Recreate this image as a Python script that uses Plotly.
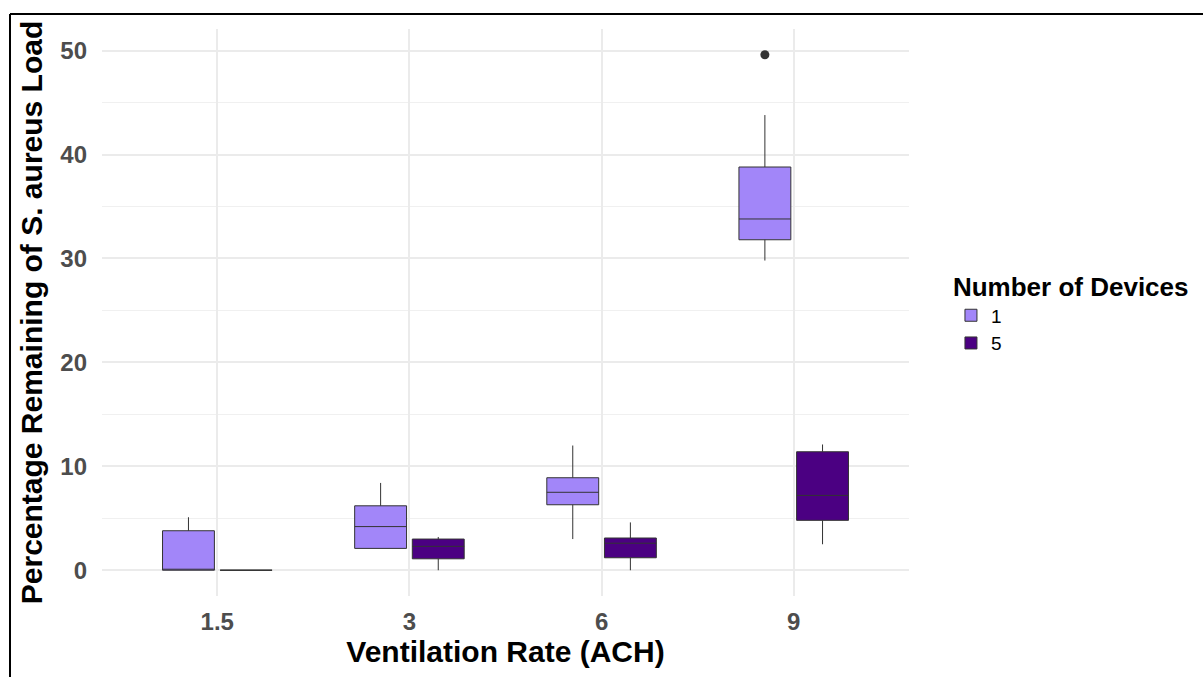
import plotly.graph_objects as go

# ---- data ----
categories = ["1.5", "3", "6", "9"]

dev1_q1 = [0.0, 2.1, 6.3, 31.8]
dev1_median = [0.0, 4.2, 7.5, 33.8]
dev1_q3 = [3.8, 6.2, 8.9, 38.8]
dev1_lower = [0.0, 2.1, 3.0, 29.8]
dev1_upper = [5.1, 8.4, 12.0, 43.8]

dev5_q1 = [0.0, 1.1, 1.2, 4.8]
dev5_median = [0.0, 2.3, 2.6, 7.2]
dev5_q3 = [0.0, 3.0, 3.1, 11.4]
dev5_lower = [0.0, 0.0, 0.0, 2.5]
dev5_upper = [0.0, 3.2, 4.6, 12.1]

outlier_x = ["9"]
outlier_dev1 = [49.6]
outlier_dev5 = [None]

FONT = "Liberation Sans, Arial, sans-serif"
COL1 = "#A286F9"
COL5 = "#4B0082"
LINE = "#333333"
BOXGAP = 0.4

fig = go.Figure()
fig.add_trace(go.Box(
    name="1", x=categories, q1=dev1_q1, median=dev1_median, q3=dev1_q3,
    lowerfence=dev1_lower, upperfence=dev1_upper,
    fillcolor=COL1, line=dict(color=LINE, width=1), whiskerwidth=0,
    boxpoints=False, offsetgroup="1", legendgroup="1",
))
fig.add_trace(go.Box(
    name="5", x=categories, q1=dev5_q1, median=dev5_median, q3=dev5_q3,
    lowerfence=dev5_lower, upperfence=dev5_upper,
    fillcolor=COL5, line=dict(color=LINE, width=1), whiskerwidth=0,
    boxpoints=False, offsetgroup="5", legendgroup="5",
))
fig.add_trace(go.Scatter(
    x=outlier_x, y=outlier_dev1, mode="markers", offsetgroup="1",
    marker=dict(color=LINE, size=9), showlegend=False, legendgroup="1",
    hoverinfo="y",
))
fig.add_trace(go.Scatter(
    x=outlier_x, y=outlier_dev5, mode="markers", offsetgroup="5",
    marker=dict(color=LINE, size=9), showlegend=False, legendgroup="5",
    hoverinfo="y",
))

border = dict(color="black", width=2)
fig.update_layout(
    width=1203, height=677,
    margin=dict(l=102, r=294, t=29, b=81),
    paper_bgcolor="white", plot_bgcolor="white",
    boxmode="group", boxgap=BOXGAP, boxgroupgap=0.1,
    scattermode="group", scattergap=BOXGAP,
    font=dict(family=FONT, color="black"),
    legend=dict(
        title=dict(text="Number of Devices", font=dict(size=26, weight="bold", color="black")),
        font=dict(size=19, color="black"),
        x=1.052, xanchor="left", y=0.588, yanchor="top",
        tracegroupgap=0, bgcolor="rgba(0,0,0,0)",
    ),
    xaxis=dict(
        type="category", categoryorder="array", categoryarray=categories,
        range=[-0.6, 3.6],
        title=dict(text="Ventilation Rate (ACH)", font=dict(size=30, weight="bold", color="black"), standoff=4),
        tickfont=dict(size=24, weight="bold", color="#4D4D4D"),
        showgrid=True, gridcolor="#EBEBEB", gridwidth=1.5,
        zeroline=False, showline=False, ticks="", ticklabelstandoff=9,
    ),
    yaxis=dict(
        range=[-2.48, 52.08], tickvals=[0, 10, 20, 30, 40, 50],
        title=dict(text="Percentage Remaining of S. aureus Load", font=dict(size=30, weight="bold", color="black"), standoff=8),
        tickfont=dict(size=24, weight="bold", color="#4D4D4D"),
        showgrid=True, gridcolor="#EBEBEB", gridwidth=1.5,
        minor=dict(tickvals=[5, 15, 25, 35, 45], showgrid=True, gridcolor="#F0F0F0", gridwidth=1.2),
        zeroline=False, showline=False, ticks="", ticklabelstandoff=14,
    ),
    shapes=[
        dict(type="line", xref="paper", yref="paper", x0=-0.114, x1=-0.114, y0=-0.2, y1=1.0265, line=border),
        dict(type="line", xref="paper", yref="paper", x0=-0.114, x1=1.5, y0=1.0265, y1=1.0265, line=border),
    ],
)

fig.write_html("out.html")
